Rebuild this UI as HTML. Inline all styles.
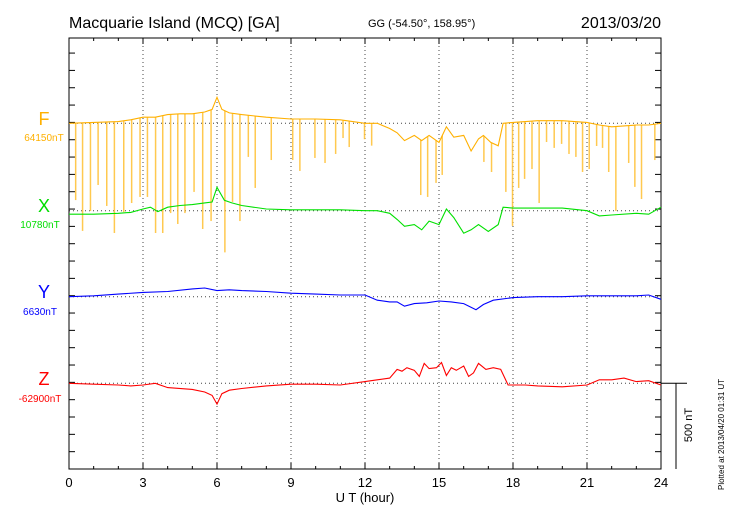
<!DOCTYPE html>
<html><head><meta charset="utf-8">
<style>
html,body{margin:0;padding:0;background:#fff;}
svg{display:block;font-family:"Liberation Sans",Arial,sans-serif;}
</style></head>
<body>
<svg id="chart" width="730" height="520" viewBox="0 0 730 520">
  <text x="69" y="28" font-size="16" fill="#000">Macquarie Island (MCQ)  [GA]</text>
  <text x="368" y="27" font-size="11" fill="#000">GG (-54.50°, 158.95°)</text>
  <text x="661" y="28" font-size="16" fill="#000" text-anchor="end">2013/03/20</text>

  <text x="44" y="125" font-size="18" fill="#FFB000" text-anchor="middle">F</text>
  <text x="44" y="141" font-size="10" fill="#FFB000" text-anchor="middle">64150nT</text>
  <text x="44" y="212" font-size="18" fill="#00DD00" text-anchor="middle">X</text>
  <text x="40" y="228" font-size="10" fill="#00DD00" text-anchor="middle">10780nT</text>
  <text x="44" y="298" font-size="18" fill="#0000FF" text-anchor="middle">Y</text>
  <text x="40" y="315" font-size="10" fill="#0000FF" text-anchor="middle">6630nT</text>
  <text x="44" y="385" font-size="18" fill="#FF0000" text-anchor="middle">Z</text>
  <text x="40" y="402" font-size="10" fill="#FF0000" text-anchor="middle">-62900nT</text>

  <text x="365" y="502" font-size="13" fill="#000" text-anchor="middle">U T (hour)</text>
  <text transform="translate(692,425) rotate(-90)" font-size="11" fill="#000" text-anchor="middle">500 nT</text>
  <text transform="translate(724,490) rotate(-90)" font-size="8" fill="#000">Plotted at 2013/04/20 01:31  UT</text>
  <g id="plot"></g>
</svg>
<script>
// ---- data (hours, nT relative to baseline) ----
const fT=[0,1,2,2.5,3,3.5,4,4.5,5,5.5,5.8,6,6.2,6.5,7,8,9,10,11,12,12.5,13,13.3,13.6,14,14.3,14.6,15,15.3,15.6,16,16.3,16.6,16.8,17.1,17.4,17.6,18,19,20,21,21.5,22,22.5,23,23.5,24];
const fV=[0,5,10,20,35,35,50,55,55,65,80,150,80,60,50,35,25,25,20,0,0,-30,-55,-100,-70,-100,-70,-110,-20,-80,-70,-160,-90,-70,-110,-130,0,5,15,15,5,-10,-20,-15,-10,-10,0];
const spikeT=[0.27,0.55,0.87,1.18,1.53,1.84,2.22,2.54,2.88,3.18,3.51,3.80,4.12,4.41,4.70,5.07,5.42,5.76,6.32,6.63,6.93,7.27,7.55,8.20,9.07,9.36,9.97,10.38,10.81,11.11,11.36,11.98,12.27,14.26,14.54,14.88,15.13,16.82,17.13,17.71,17.98,18.23,18.47,18.77,19.06,19.36,19.67,19.97,20.27,20.55,20.82,21.09,21.39,21.63,21.88,22.17,22.69,22.94,23.21,23.75];
const spikeV=[-443,-621,-506,-356,-477,-633,-512,-460,-425,-425,-633,-633,-518,-581,-518,-396,-610,-564,-745,-454,-564,-194,-373,-212,-212,-275,-200,-229,-177,-85,-137,-92,-129,-414,-425,-344,-298,-223,-281,-396,-592,-373,-321,-264,-460,-108,-142,-119,-177,-194,-281,-264,-131,-142,-281,-506,-229,-367,-437,-212];
const xT=[0,1,2,2.5,3,3.3,3.6,4,4.5,5,5.5,5.8,6,6.3,6.6,7,8,9,10,11,12,12.5,13,13.3,13.6,14,14.3,14.6,15,15.3,15.6,16,16.3,16.6,17,17.4,17.6,18,19,20,21,21.5,22,23,23.5,24];
const xV=[-20,-20,-15,-10,10,20,-5,20,30,35,45,50,135,60,45,30,10,5,5,5,0,0,-15,-50,-90,-80,-110,-60,-80,10,-40,-130,-110,-80,-120,-80,20,15,15,15,0,-30,-25,-15,-20,20];
const yT=[0,1,2,3,4,5,5.5,6,6.5,7,8,9,10,11,12,12.5,13,13.3,13.6,14,14.5,15,15.5,16,16.5,16.8,17.2,18,19,20,21,22,23,23.5,24];
const yV=[0,5,15,25,30,45,50,35,40,35,30,20,15,10,10,-20,-30,-30,-55,-40,-35,-25,-30,-40,-75,-45,-20,-5,0,0,5,5,5,10,-15];
const zT=[0,1,2,2.5,3,3.5,4,5,5.5,5.8,6,6.2,6.5,7,8,9,10,11,12,12.5,13,13.3,13.5,13.7,14,14.2,14.4,14.6,14.9,15.1,15.3,15.5,15.7,16,16.2,16.4,16.6,16.9,17.2,17.5,17.8,18.5,19,20,21,21.5,22,22.5,23,23.5,24];
const zV=[0,-5,-10,-15,-10,0,-25,-35,-50,-70,-120,-60,-40,-30,-15,-5,-5,-10,10,20,30,80,70,90,75,40,115,85,90,120,45,90,75,100,40,60,115,80,90,80,-10,-10,-15,-20,-10,20,20,30,10,15,-10];
const xTickLabels=["0","3","6","9","12","15","18","21","24"];

// ---- layout ----
const X0=69,X1=661,Y0=38,Y1=469;
const PX_PER_NT=0.1733;
const base={F:123.3,X:210.7,Y:296.7,Z:383.3};
function sx(h){return X0+(X1-X0)*h/24;}
function sy(b,v){return b-v*PX_PER_NT;}
const NS="http://www.w3.org/2000/svg";
const g=document.getElementById('plot');
function mk(tag,attrs,parent){const e=document.createElementNS(NS,tag);for(const k in attrs)e.setAttribute(k,attrs[k]);(parent||g).appendChild(e);return e;}
function interp(T,V,h){for(let i=1;i<T.length;i++){if(h<=T[i]){const t=(h-T[i-1])/(T[i]-T[i-1]);return V[i-1]+t*(V[i]-V[i-1]);}}return V[V.length-1];}

// grid
for(let i=1;i<8;i++){
  const l=mk('line',{x1:sx(i*3),x2:sx(i*3),y1:Y0,y2:Y1,stroke:'#444','stroke-width':1,'stroke-dasharray':'1,3'});
  
  
}
for(const k of ['F','X','Y','Z']){
  const l=mk('line',{x1:X0,x2:X1,y1:base[k],y2:base[k],stroke:'#444','stroke-width':1,'stroke-dasharray':'1,3'});
  
  
}
// frame
const fr=mk('rect',{x:X0,y:Y0,width:X1-X0,height:Y1-Y0,fill:'none',stroke:'#000','stroke-width':1});


// y ticks
for(let y=Y1;y>=Y0;y-=17.33){
  mk('line',{x1:X0,x2:X0+6,y1:y,y2:y,stroke:'#000'});
  mk('line',{x1:X1-6,x2:X1,y1:y,y2:y,stroke:'#000'});
}
// x ticks
for(let h=0;h<=24;h++){
  const len=h%3===0?6:3;
  mk('line',{x1:sx(h),x2:sx(h),y1:Y1,y2:Y1-len,stroke:'#000'});
  mk('line',{x1:sx(h),x2:sx(h),y1:Y0,y2:Y0+len,stroke:'#000'});
}
xTickLabels.forEach((t,i)=>{
  const tx=mk('text',{x:sx(i*3),y:487,'font-size':13,'text-anchor':'middle',fill:'#000'});
  tx.textContent=t;
  
  
});
// scale bar
const sb=mk('path',{d:`M${X1} ${base.Z} H687 M676 ${base.Z} V${Y1}`,stroke:'#000',fill:'none'});



// series
function series(T,V,b,color,name){
  const d=T.map((h,i)=>(i?'L':'M')+sx(h).toFixed(1)+' '+sy(b,V[i]).toFixed(1)).join(' ');
  const p=mk('path',{d:d,fill:'none',stroke:color,'stroke-width':1.1});
  
  
}
// F spikes
spikeT.forEach((h,i)=>{
  const top=sy(base.F,interp(fT,fV,h));
  const l=mk('line',{x1:sx(h),x2:sx(h),y1:top,y2:sy(base.F,spikeV[i]),stroke:'#FFC030','stroke-width':1.5,'stroke-opacity':0.85});
  
  
});
series(fT,fV,base.F,'#FFB000','f-series');
series(xT,xV,base.X,'#00E000','x-series');
series(yT,yV,base.Y,'#0000FF','y-series');
series(zT,zV,base.Z,'#FF0000','z-series');
</script>
</body></html>
